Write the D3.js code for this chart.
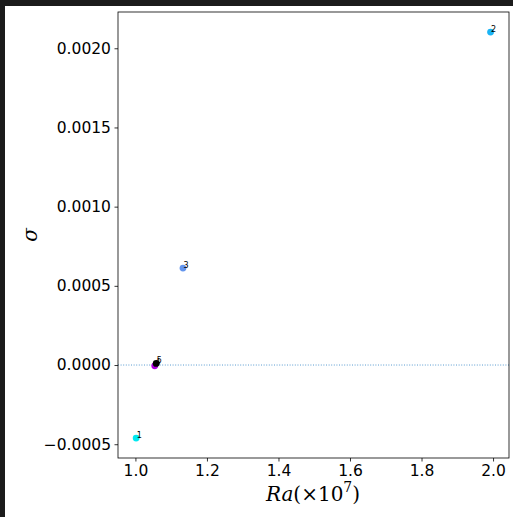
<!DOCTYPE html>
<html><head><meta charset="utf-8">
<script src="https://cdn.jsdelivr.net/npm/d3@7"></script>
<style>html,body{margin:0;padding:0;background:#1b1b1b;overflow:hidden}</style>
</head><body>
<svg id="c" width="513" height="517"></svg>
<script>
const labels = ["1","2","3","4","5"];
const raValues = [1.002, 1.993, 1.133, 1.054, 1.058];
const sigmaValues = [-0.000461, 0.002102, 0.000612, -0.000005, 0.000010];
const pointColors = ["#00e8f0", "#1ab4f5", "#6495ed", "#b000e0", "#000000"];
const xTicks = [1.0, 1.2, 1.4, 1.6, 1.8, 2.0];
const yTicks = [-0.0005, 0.0, 0.0005, 0.0010, 0.0015, 0.0020];

const svg = d3.select("#c");
svg.append("rect").attr("x",0).attr("y",0).attr("width",513).attr("height",517).attr("fill","#1b1b1b");
svg.append("rect").attr("x",5).attr("y",6).attr("width",508).attr("height",511).attr("fill","#ffffff");

const L=118, R=509, T=12, B=458;
const x = d3.scaleLinear().domain([0.9513, 2.0446]).range([L,R]);
const y = d3.scaleLinear().domain([-0.000587, 0.002229]).range([B,T]);

// zero line
svg.append("line").attr("x1",L).attr("x2",R).attr("y1",y(0)).attr("y2",y(0))
  .attr("stroke","#5a9bd0").attr("stroke-width",1).attr("stroke-dasharray","1,1.6");

const xAxis = d3.axisBottom(x).tickValues(xTicks).tickFormat(d3.format(".1f")).tickSize(3.5).tickPadding(3.5);
const yAxis = d3.axisLeft(y).tickValues(yTicks).tickFormat(d=>{const s=d3.format(".4f")(Math.abs(d)); return d<0?"\u2212"+s:s;}).tickSize(3.5).tickPadding(3.5);

const gx = svg.append("g").attr("transform",`translate(0,${B})`).call(xAxis);
const gy = svg.append("g").attr("transform",`translate(${L},0)`).call(yAxis);
[gx,gy].forEach(g=>{
  g.select(".domain").remove();
  g.selectAll("text").attr("font-family","DejaVu Sans").attr("font-size","15.5px").attr("fill","#000");
  g.selectAll("line").attr("stroke","#000").attr("stroke-width",0.8);
});

// frame
svg.append("rect").attr("x",L).attr("y",T).attr("width",R-L).attr("height",B-T)
  .attr("fill","none").attr("stroke","#000").attr("stroke-width",0.8);

// points
const data = labels.map((l,i)=>({l, x:raValues[i], y:sigmaValues[i], c:pointColors[i]}));
svg.selectAll("circle.pt").data(data).join("circle").attr("class","pt")
  .attr("cx",d=>x(d.x)).attr("cy",d=>y(d.y)).attr("r",3.4).attr("fill",d=>d.c);
svg.selectAll("text.lb").data(data).join("text").attr("class","lb")
  .attr("x",d=>x(d.x)).attr("y",d=>y(d.y)).attr("dy","-0.5").attr("dx","0.5")
  .attr("font-family","DejaVu Sans").attr("font-size","8px").attr("fill","#000").text(d=>d.l);

// axis labels
svg.append("text").attr("transform","translate(37,235) rotate(-90)").attr("text-anchor","middle")
  .attr("font-family","DejaVu Serif").attr("font-style","italic").attr("font-size","20px").text("σ");
const xl = svg.append("text").attr("x",313).attr("y",501).attr("text-anchor","middle")
  .attr("font-family","DejaVu Serif").attr("font-size","20px");
xl.append("tspan").attr("font-style","italic").text("Ra");
xl.append("tspan").text("(×10");
xl.append("tspan").attr("font-size","14px").attr("dy","-9").text("7");
xl.append("tspan").attr("dy","9").text(")");
</script>
</body></html>
